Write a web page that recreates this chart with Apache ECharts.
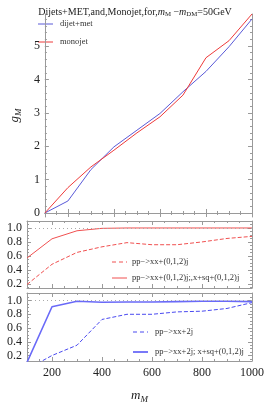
<!DOCTYPE html>
<html><head><meta charset="utf-8">
<script src="https://cdn.jsdelivr.net/npm/echarts@6/dist/echarts.min.js"></script>
<style>html,body{margin:0;padding:0;background:#fff}#c{width:270px;height:407px}</style>
</head><body><div id="c"></div>
<script>
const mass = [100,200,300,400,500,600,700,800,900,1000];
const gDijet = [0,0.36,1.30,1.98,2.48,2.98,3.63,4.24,4.98,5.81];
const gMono  = [0,0.76,1.38,1.88,2.40,2.88,3.53,4.65,5.16,5.96];
const effMonoSolid  = [0.57,0.845,0.96,0.995,1.0,1.0,1.0,1.0,1.0,1.0];
const effMonoDashed = [0.19,0.48,0.65,0.73,0.79,0.76,0.76,0.80,0.85,0.88];
const effDijetSolid  = [0.10,0.91,0.99,0.975,0.98,0.98,0.985,0.99,0.99,0.985];
const effDijetDashed = [0.0,0.20,0.35,0.725,0.80,0.80,0.835,0.845,0.885,0.97];
const xLabels = [200,400,600,800,1000];
const gLabels = [0,1,2,3,4,5];
const effLabels = [0.2,0.4,0.6,0.8,1.0];

const FONT = 'Liberation Serif';
const frame = '#9a9a9a';
function rng(a,b,s){const r=[];for(let v=a;v<=b+1e-9;v+=s)r.push(+v.toFixed(4));return r;}

const grids = [
  {left:27,right:18,top:14,height:203},
  {left:27,right:18,top:221,height:67},
  {left:27,right:18,top:293,height:68}
];
const yr = [[-0.12,5.96],[0.14,1.10],[0.12,1.11]];
const yMajor = [gLabels, effLabels, effLabels];
const yMinor = [rng(0,5.8,0.2), rng(0.15,1.1,0.05), rng(0.15,1.1,0.05)];

const xAxis=[], yAxis=[];
grids.forEach((g,i)=>{
  ['bottom','top'].forEach(pos=>{
    [true,false].forEach(major=>{
      xAxis.push({type:'value',gridIndex:i,position:pos,min:100,max:1000,
        axisLine:{show:major,lineStyle:{color:frame,width:1}},
        splitLine:{show:false},
        axisTick:{show:true,inside:true,length:major?4:2,customValues:major?xLabels:rng(100,1000,50),lineStyle:{color:frame}},
        axisLabel:{show:major&&pos==='bottom'&&i===2,customValues:xLabels,color:'#222',fontFamily:FONT,fontSize:12,margin:6,formatter:v=>String(v)},
        name:(major&&pos==='bottom'&&i===2)?'{i|m}{s|M}':'',
        nameLocation:'middle',nameGap:26,
        nameTextStyle:{rich:{i:{fontFamily:FONT,fontStyle:'italic',fontSize:13,color:'#222'},s:{fontFamily:FONT,fontStyle:'italic',fontSize:9,color:'#222',verticalAlign:'bottom',padding:[8,0,0,0]}}}
      });
    });
  });
  ['left','right'].forEach(pos=>{
    [true,false].forEach(major=>{
      yAxis.push({type:'value',gridIndex:i,position:pos,min:yr[i][0],max:yr[i][1],
        axisLine:{show:major,lineStyle:{color:frame,width:1}},
        splitLine:{show:false},
        axisTick:{show:true,inside:true,length:major?4:2,customValues:major?yMajor[i]:yMinor[i],lineStyle:{color:frame}},
        axisLabel:{show:major&&pos==='left',customValues:yMajor[i],color:'#222',fontFamily:FONT,fontSize:12,margin:5,
          formatter:v=> i===0? String(v) : v.toFixed(1)},
        name:(major&&pos==='left'&&i===0)?'{i|g}{s|M}':'',
        nameLocation:'middle',nameGap:13,nameRotate:90,
        nameTextStyle:{rich:{i:{fontFamily:FONT,fontStyle:'italic',fontSize:13,color:'#222'},s:{fontFamily:FONT,fontStyle:'italic',fontSize:9,color:'#222',padding:[8,0,0,0]}}}
      });
    });
  });
});
const pair = a => mass.map((m,k)=>[m,a[k]]);
function ln(name,gi,data,color,type,width){
  return {name,type:'line',xAxisIndex:gi*4,yAxisIndex:gi*4,data:pair(data),symbol:'none',
    lineStyle:{color,width:width||1,type:type||'solid'},itemStyle:{color},animation:false,clip:true};
}
const dotted = {silent:true,symbol:'none',label:{show:false},lineStyle:{color:'#aaa',type:[1,3],width:1},data:[{yAxis:1.0}]};
const N = {
  d:'dijet+met', m:'monojet',
  md:'pp\u2212>xx+(0,1,2)j', ms:'pp\u2212>xx+(0,1,2)j;,x+sq+(0,1,2)j',
  dd:'pp\u2212>xx+2j', ds:'pp\u2212>xx+2j; x+sq+(0,1,2)j'
};
const C = {blue:'#5a5ad8', red:'#ee3a3a', red2:'#f05050', blue2:'#4a4af0', blue3:'#6a6af8'};
const s1 = ln(N.d,0,gDijet,C.blue);
const s2 = ln(N.m,0,gMono,C.red);
const s3 = ln(N.md,1,effMonoDashed,C.red2,'dashed');
const s4 = ln(N.ms,1,effMonoSolid,C.red2);
s4.markLine = dotted;
const s5 = ln(N.dd,2,effDijetDashed,C.blue2,'dashed');
const s6 = ln(N.ds,2,effDijetSolid,C.blue3,'solid',1.6);
s6.markLine = JSON.parse(JSON.stringify(dotted));

// legend entries drawn as graphic: [label, color, dashed, width, x0, x1, y, textX]
const legendItems = [
  [N.d, C.blue, false, 1, 38, 53, 24, 60],
  [N.m, C.red, false, 1, 38, 53, 42, 60],
  [N.md, C.red2, true, 1, 112, 127, 262, 132],
  [N.ms, C.red2, false, 1, 112, 127, 278, 132],
  [N.dd, C.blue2, true, 1, 133, 148, 332, 155],
  [N.ds, C.blue3, false, 1.8, 133, 148, 352, 155]
];
const graphic = [];
legendItems.forEach(([t,col,dash,w,x0,x1,y,tx])=>{
  graphic.push({type:'line',shape:{x1:x0,y1:y,x2:x1,y2:y},style:{stroke:col,lineWidth:w,lineDash:dash?[4,3]:null},silent:true});
  graphic.push({type:'text',x:tx,y:y,style:{text:t,fill:'#333',font:'8.5px "Liberation Serif"',verticalAlign:'middle',align:'left'},silent:true});
});

const chart = echarts.init(document.getElementById('c'),null,{renderer:'canvas'});
chart.setOption({
  animation:false,
  title:{text:'Dijets+MET,and,Monojet,for,{i|m}{s|M} \u2212{i|m}{s|DM}=50GeV',left:'center',top:1,
    textStyle:{fontFamily:FONT,fontSize:10,fontWeight:'normal',color:'#222',
      rich:{i:{fontFamily:FONT,fontStyle:'italic',fontSize:10,color:'#222'},s:{fontFamily:FONT,fontSize:6.8,color:'#222',padding:[5,0,0,0]}}}},
  grid:grids,
  xAxis, yAxis,
  graphic,
  series:[s1,s2,s3,s4,s5,s6]
});
</script></body></html>
